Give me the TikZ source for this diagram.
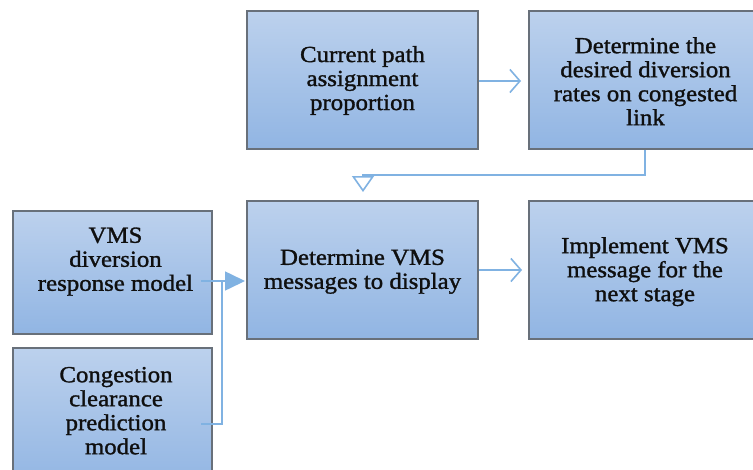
\documentclass[tikz,border=0pt]{standalone}
\usepackage{fontspec}
\setmainfont{Liberation Serif}[FakeStretch=1.08,FakeBold=1.3]
\usetikzlibrary{arrows.meta}

\definecolor{boxtop}{RGB}{188,209,237}
\definecolor{boxbot}{RGB}{145,181,227}
\definecolor{boxedge}{RGB}{104,112,122}
\definecolor{linkblue}{RGB}{128,178,226}
\definecolor{ink}{RGB}{15,15,15}

\tikzset{
  stepbox/.style={rectangle, draw=boxedge, line width=1.6pt,
    top color=boxtop, bottom color=boxbot, inner sep=0pt},
  boxtext/.style={align=center, inner sep=0pt, text=ink,
    font=\fontsize{23}{24}\selectfont},
  flow/.style={draw=linkblue, line width=1.6pt},
  openflow/.style={flow, -{Straight Barb[length=10pt,width=23pt,line width=1.6pt]}},
  downflow/.style={flow, -{Triangle[open,length=16pt,width=22pt,line width=1.6pt]}},
  solidflow/.style={flow, -{Triangle[length=20pt,width=19pt]}},
}

\begin{document}
\begin{tikzpicture}[x=1pt,y=-1pt]
  \useasboundingbox (0,0) rectangle (753,469);
  \clip (0,0) rectangle (753,469);
  \fill[white] (0,0) rectangle (753,469);

  % process boxes
  \node[stepbox, minimum width=231pt, minimum height=138pt] (path) at (362.5,80) {};
  \node[stepbox, minimum width=235pt, minimum height=138pt] (rates) at (646.5,80) {};
  \node[stepbox, minimum width=231pt, minimum height=138pt] (msg) at (362.5,270) {};
  \node[stepbox, minimum width=235pt, minimum height=138pt] (impl) at (646.5,270) {};
  \node[stepbox, minimum width=199pt, minimum height=123pt] (resp) at (112.5,272.5) {};
  \node[stepbox, minimum width=199pt, minimum height=140pt] (clear) at (112.5,418) {};

  % box captions
  \node[boxtext] (pathtxt)  at (362.5,80.5) {Current path\\assignment\\proportion};
  \node[boxtext] (ratestxt) at (645.5,81.2) {Determine the\\desired diversion\\rates on congested\\link};
  \node[boxtext] (msgtxt)   at (362.5,271.7) {Determine VMS\\messages to display};
  \node[boxtext] (impltxt)  at (645,271.7) {Implement VMS\\message for the\\next stage};
  \node[boxtext] (resptxt)  at (115.5,261.6) {VMS\\diversion\\response model};
  \node[boxtext] (cleartxt) at (116,410.7) {Congestion\\clearance\\prediction\\model};

  % connector end points
  \coordinate (rout)  at (645,150);
  \coordinate (turn)  at (363,175);
  \coordinate (rin)   at (363,192);
  \coordinate (respout)  at (201,281);
  \coordinate (clearout) at (201,424);
  \coordinate (join)     at (222,281);
  \coordinate (msgin)    at (245,281);

  % connectors
  \draw[openflow] (path.east |- 0,81) -- (521,81);
  \draw[openflow] (msg.east |- 0,270) -- (522,270);
  \draw[downflow] (rout) |- (turn) -- (rin);
  \draw[solidflow] (respout) -- (msgin);
  \draw[flow] (clearout) -| (join);
\end{tikzpicture}
\end{document}
